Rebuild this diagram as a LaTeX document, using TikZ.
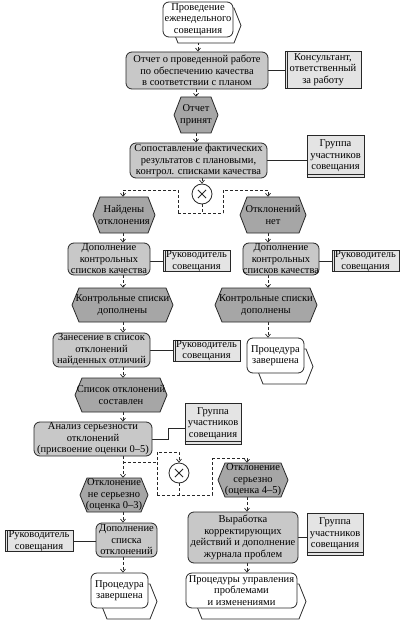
\documentclass[tikz,border=0pt]{standalone}
\usepackage{fontspec}
\setmainfont{Liberation Serif}
\usetikzlibrary{arrows.meta,calc}
\pgfdeclarelayer{bglayer}
\pgfdeclarelayer{connlayer}
\pgfsetlayers{bglayer,connlayer,main}
\definecolor{procfill}{RGB}{200,200,200}
\definecolor{evfill}{RGB}{166,166,166}
\definecolor{orgfill}{RGB}{228,228,228}
\definecolor{linecol}{RGB}{40,40,40}
\tikzset{
 txt/.style={inner sep=0pt, align=center, font=\fontsize{10.5}{11.5}\selectfont},
 procbox/.style={txt, draw=linecol, line width=0.8pt, fill=procfill, rounded corners=6pt},
 orgbox/.style={txt, draw=linecol, line width=0.8pt, fill=orgfill},
 evshape/.style={draw=linecol, line width=0.8pt, fill=evfill},
 ifrect/.style={txt, draw=linecol, line width=0.8pt, fill=white, rounded corners=6pt},
 ifhex/.style={draw=linecol, line width=0.8pt, fill=white},
 xorbox/.style={circle, draw=linecol, fill=white, line width=0.8pt, minimum size=20pt, inner sep=0pt},
 conn/.style={draw=linecol, line width=0.7pt, dash pattern=on 3pt off 2pt},
 flow/.style={conn, -{Straight Barb[length=3pt,width=5pt]}},
 orgline/.style={draw=linecol, line width=0.8pt},
}
\newcommand{\hexpath}[5]{%
 \path[#1] ({#2-#4/2},{#3}) -- ({#2-#4/2+7},{#3-#5/2}) -- ({#2+#4/2-7},{#3-#5/2}) -- ({#2+#4/2},{#3}) -- ({#2+#4/2-7},{#3+#5/2}) -- ({#2-#4/2+7},{#3+#5/2}) -- cycle;}
\newcommand{\EVT}[6]{\hexpath{evshape}{#2}{#3}{#4}{#5}\node[txt,minimum width=#4pt,minimum height=#5pt] (#1) at (#2,#3) {#6};}
\newcommand{\IFC}[8]{\hexpath{ifhex}{#2+#6}{#3+#7}{#4}{#5}\node[ifrect,minimum width=#4pt,minimum height=#5pt] (#1) at (#2,#3) {#8};}
\newcommand{\ORG}[7]{\node[orgbox,minimum width=#4pt,minimum height=#5pt] (#1) at (#2,#3) {#7};%
 \ifx L#6 \draw[orgline] ([xshift=2.5pt]#1.north west) -- ([xshift=2.5pt]#1.south west);%
 \else \draw[orgline] ([yshift=3pt]#1.south west) -- ([yshift=3pt]#1.south east);\fi}
\newcommand{\PRC}[6]{\node[procbox,minimum width=#4pt,minimum height=#5pt] (#1) at (#2,#3) {#6};}
\newcommand{\XOR}[3]{\node[xorbox] (#1) at (#2,#3) {};
 \draw[orgline] ($(#1.center)!0.55!(#1.north west)$) -- ($(#1.center)!0.55!(#1.south east)$);
 \draw[orgline] ($(#1.center)!0.55!(#1.north east)$) -- ($(#1.center)!0.55!(#1.south west)$);}
\begin{document}
\begin{tikzpicture}[x=1pt,y=-1pt]
\begin{pgfonlayer}{bglayer}
\fill[white] (0,0) rectangle (405,620);
\end{pgfonlayer}
\useasboundingbox (0,0) rectangle (405,620);
\coordinate (colL) at (123,0);
\coordinate (colR) at (268,0);
\coordinate (colS) at (247,0);
\coordinate (j1) at (178,213);
\coordinate (j2) at (223,213);
\coordinate (j3) at (178,190);
\coordinate (j4) at (223,190);
\coordinate (k1) at (157,462);
\coordinate (k2) at (157,452);
\coordinate (k3) at (157,495);
\coordinate (k4) at (212,495);
\coordinate (k5) at (212,458);

% shapes
\IFC{i1}{198}{19.5}{70}{35}{8}{6}{Проведение\\еженедельного\\совещания}
\PRC{p1}{197}{70.5}{142}{37}{Отчет о проведенной работе\\по обеспечению качества\\в соответствии с планом}
\ORG{o1}{323}{69.5}{76}{37}{L}{Консультант,\\ответственный\\за работу}
\EVT{e1}{196}{115}{44}{36}{Отчет\\принят}
\PRC{p2}{198.5}{160.5}{137}{35}{Сопоставление фактических\\результатов с плановыми,\\контрол. списками качества}
\ORG{o2}{335.5}{156}{57}{42}{B}{Группа\\участников\\совещания}
\XOR{x1}{202}{194}
\EVT{e2}{124}{215}{62}{36}{Найдены\\отклонения}
\EVT{e3}{273}{215}{66}{36}{Отклонений\\нет}
\PRC{p3l}{109}{259}{82}{32}{Дополнение\\контрольных\\списков качества}
\ORG{o3l}{196.5}{261}{67}{20}{L}{Руководитель\\совещания}
\PRC{p3r}{281}{259}{74}{32}{Дополнение\\контрольных\\списков качества}
\ORG{o3r}{365.5}{261}{67}{20}{L}{Руководитель\\совещания}
\EVT{e4l}{122.5}{305}{101}{34}{Контрольные списки\\дополнены}
\EVT{e4r}{266}{305}{102}{34}{Контрольные списки\\дополнены}
\PRC{p4}{101.5}{350}{97}{34}{Занесение в список\\отклонений\\найденных отличий}
\ORG{o4}{206.5}{350.5}{67}{21}{L}{Руководитель\\совещания}
\IFC{i2}{275.5}{355.5}{57}{35}{9}{11}{Процедура\\завершена}
\EVT{e5}{121}{395}{92}{34}{Список отклонений\\составлен}
\PRC{p5}{93}{439}{118}{34}{Анализ серьезности\\отклонений\\(присвоение оценки 0–5)}
\ORG{o5}{213}{423.5}{56}{41}{B}{Группа\\участников\\совещания}
\XOR{x2}{179}{473}
\EVT{e6l}{114}{495}{68}{34}{Отклонение\\не серьезно\\(оценка 0–3)}
\EVT{e6r}{253}{480}{70}{34}{Отклонение\\серьезно\\(оценка 4–5)}
\PRC{p6l}{126.5}{540}{61}{34}{Дополнение\\списка\\отклонений}
\ORG{o6l}{39}{541}{68}{20}{L}{Руководитель\\совещания}
\IFC{i3l}{119.5}{590.5}{57}{35}{9}{11}{Процедура\\завершена}
\PRC{p6r}{243}{537.5}{110}{51}{Выработка\\корректирующих\\действий и дополнение\\журнала проблем}
\ORG{o6r}{335}{534}{56}{42}{B}{Группа\\участников\\совещания}
\IFC{i3r}{241.5}{590.5}{111}{35}{9}{11}{Процедуры управления\\проблемами\\и изменениями}

% connectors
\begin{pgfonlayer}{connlayer}
\draw[flow] (i1.south) -- (i1.south |- p1.north);
\draw[orgline] (p1.east) -- (p1.east -| o1.west);
\draw[flow] (e1.north |- p1.south) -- (e1.north);
\draw[flow] (e1.south) -- (e1.south |- p2.north);
\draw[orgline] (p2.east) -- (p2.east -| o2.west);
\draw[flow] (x1.north |- p2.south) -- (x1.north);
\draw[conn] (x1.south) -- (x1.south |- j1);
\draw[conn] (j1) -- (j2);
\draw[flow] (j1) -- (j3) -| (e2.north -| colL);
\draw[flow] (j2) -- (j4) -| (e3.north -| colR);
\draw[flow] (e2.south -| colL) -- (p3l.north -| colL);
\draw[flow] (e3.south -| colR) -- (p3r.north -| colR);
\draw[orgline] (p3l.east |- o3l.west) -- (o3l.west);
\draw[orgline] (p3r.east |- o3r.west) -- (o3r.west);
\draw[flow] (p3l.south -| colL) -- (e4l.north -| colL);
\draw[flow] (p3r.south -| colR) -- (e4r.north -| colR);
\draw[flow] (e4l.south -| colL) -- (p4.north -| colL);
\draw[flow] (e4r.south -| colR) -- (i2.north -| colR);
\draw[orgline] (p4.east |- o4.west) -- (o4.west);
\draw[flow] (p4.south -| colL) -- (e5.north -| colL);
\draw[flow] (e5.south -| colL) -- (p5.north -| colL);
\draw[orgline] (p5.east) -- ++(16,0) |- ([yshift=-4.5pt]o5.west);
\draw[flow] (p5.south -| colL) -- (e6l.north -| colL);
\draw[conn] (k1 -| colL) -- (k1);
\draw[flow] (k3) -- (k2) -| (x2.north);
\draw[conn] (x2.south) -- (x2.south |- k3);
\draw[conn] (k3) -- (k4) -- (k5);
\draw[flow] (k5) -| (e6r.north -| colS);
\draw[flow] (e6l.south -| colL) -- (p6l.north -| colL);
\draw[orgline] (o6l.east) -- (o6l.east -| p6l.west);
\draw[flow] (p6l.south -| colL) -- (i3l.north -| colL);
\draw[flow] (e6r.south -| colS) -- (p6r.north -| colS);
\draw[orgline] (p6r.east) -- (p6r.east -| o6r.west);
\draw[flow] (p6r.south -| colS) -- (i3r.north -| colS);
\end{pgfonlayer}
\end{tikzpicture}
\end{document}
